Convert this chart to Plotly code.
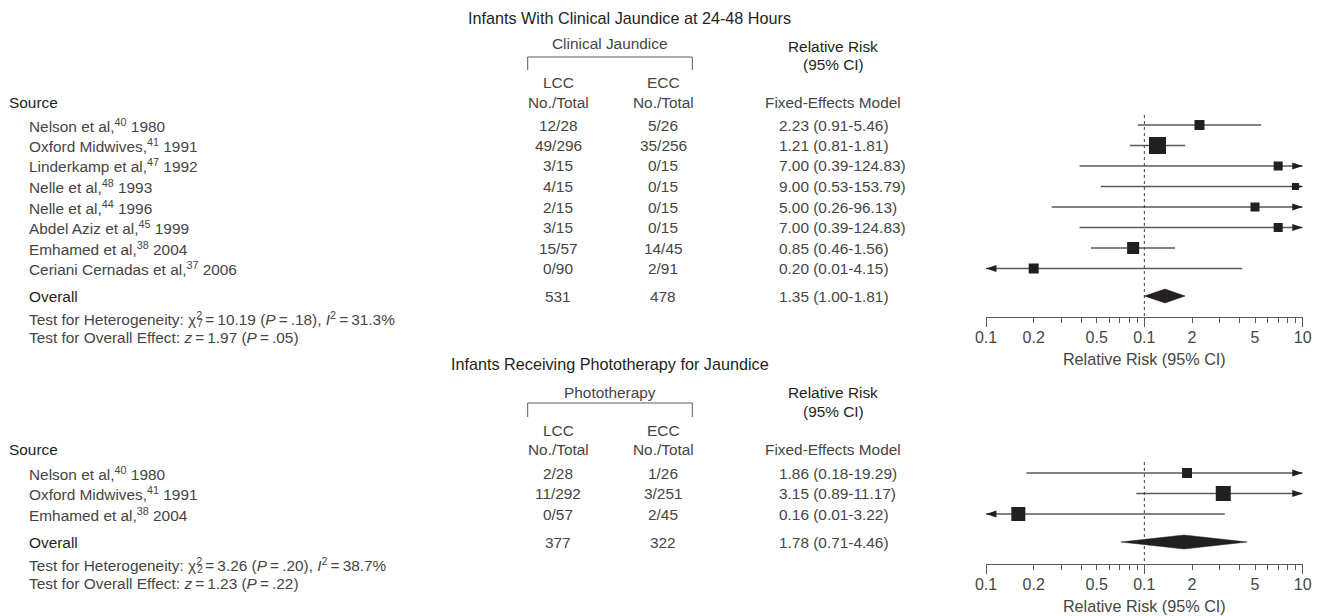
import numpy as np
import plotly.graph_objects as go

W, H = 1320, 616
FONT = "Liberation Sans, Arial, Helvetica, sans-serif"
DARK = "#231f20"
BODY = "#454545"
LINE = "#5a5a5a"
FS = 15.4        # body text size
FS_HEAD = 16.2   # section title size

# ------------------------------------------------------------------ data
# Panel 1: Infants With Clinical Jaundice at 24-48 Hours
p1_title = "Infants With Clinical Jaundice at 24-48 Hours"
p1_group = "Clinical Jaundice"
p1_authors = ["Nelson et al,", "Oxford Midwives,", "Linderkamp et al,", "Nelle et al,",
              "Nelle et al,", "Abdel Aziz et al,", "Emhamed et al,", "Ceriani Cernadas et al,"]
p1_refs = ["40", "41", "47", "48", "44", "45", "38", "37"]
p1_years = ["1980", "1991", "1992", "1993", "1996", "1999", "2004", "2006"]
p1_lcc = ["12/28", "49/296", "3/15", "4/15", "2/15", "3/15", "15/57", "0/90"]
p1_ecc = ["5/26", "35/256", "0/15", "0/15", "0/15", "0/15", "14/45", "2/91"]
p1_rr = [2.23, 1.21, 7.00, 9.00, 5.00, 7.00, 0.85, 0.20]
p1_lo = [0.91, 0.81, 0.39, 0.53, 0.26, 0.39, 0.46, 0.01]
p1_hi = [5.46, 1.81, 124.83, 153.79, 96.13, 124.83, 1.56, 4.15]
p1_weight = [10.8, 31.2, 8.8, 5.3, 8.8, 8.8, 15.6, 10.8]   # estimated relative weights (%)
p1_totals = ["531", "478"]
p1_overall = [1.35, 1.00, 1.81]          # estimate, lower, upper
p1_chi_df, p1_chi, p1_chi_p, p1_i2 = "7", "10.19", ".18", "31.3%"
p1_z, p1_z_p = "1.97", ".05"

# Panel 2: Infants Receiving Phototherapy for Jaundice
p2_title = "Infants Receiving Phototherapy for Jaundice"
p2_group = "Phototherapy"
p2_authors = ["Nelson et al,", "Oxford Midwives,", "Emhamed et al,"]
p2_refs = ["40", "41", "38"]
p2_years = ["1980", "1991", "2004"]
p2_lcc = ["2/28", "11/292", "0/57"]
p2_ecc = ["1/26", "3/251", "2/45"]
p2_rr = [1.86, 3.15, 0.16]
p2_lo = [0.18, 0.89, 0.01]
p2_hi = [19.29, 11.17, 3.22]
p2_weight = [19.2, 43.2, 37.6]
p2_totals = ["377", "322"]
p2_overall = [1.78, 0.71, 4.46]
p2_chi_df, p2_chi, p2_chi_p, p2_i2 = "2", "3.26", ".20", "38.7%"
p2_z, p2_z_p = "1.23", ".22"

# axis ticks (the reference labels the 1 tick as "0.1")
tick_vals = [0.1, 0.2, 0.3, 0.4, 0.5, 0.6, 0.7, 0.8, 0.9, 1, 2, 3, 4, 5, 6, 7, 8, 9, 10]
tick_labels = {0.1: "0.1", 0.2: "0.2", 0.5: "0.5", 1: "0.1", 2: "2", 5: "5", 10: "10"}
decade_ticks = [0.1, 1, 10]
axis_title = "Relative Risk (95% CI)"

# ------------------------------------------------------------------ layout (pixel positions)
X_SOURCE, X_NAME, X_LCC, X_ECC, X_RR_C, X_RR_L = 6.5, 26.5, 558, 663, 833, 776.5
X_GROUP, BR_X0, BR_X1 = 610, 527.7, 692.3
X_CHI_DF = 200
AX_X0, AX_X1 = 986, 1302.7
ROW_DY = 20.5
P1 = dict(title_x=629, title_y=18, group_y=44, br_top=57, br_bot=70, rr1_y=46, rr2_y=64,
          lcc_y=83, hdr_y=102, row0=125, overall_y=296, het_y=318, eff_y=337,
          axis_y=317, dot_top=115, sq_scale=3.05)
P2 = dict(title_x=610, title_y=364, group_y=392, br_top=403, br_bot=417, rr1_y=392.5, rr2_y=411.5,
          lcc_y=430, hdr_y=449, row0=473, overall_y=542, het_y=564, eff_y=583,
          axis_y=564, dot_top=462, sq_scale=2.28)

annotations, shapes, traces = [], [], []


def px(x):
    return x / W


def py(y):
    return 1 - y / H


def ann(text, x, y, anchor="left", size=FS, color=BODY):
    annotations.append(dict(text=text, x=px(x), y=py(y), xref="paper", yref="paper",
                            xanchor=anchor, yanchor="middle", showarrow=False,
                            font=dict(family=FONT, size=size, color=color)))


def panel(P, xname, title, group, authors, refs, years, lcc, ecc, rr, lo, hi, weight,
          totals, overall, chi_df, chi, chi_p, i2, z, z_p):
    ann(title, P["title_x"], P["title_y"], "center", size=FS_HEAD, color=DARK)
    ann(group, X_GROUP, P["group_y"], "center")
    shapes.append(dict(type="path", xref="paper", yref="paper",
                       path=f"M{px(BR_X0)},{py(P['br_bot'])} L{px(BR_X0)},{py(P['br_top'])} "
                            f"L{px(BR_X1)},{py(P['br_top'])} L{px(BR_X1)},{py(P['br_bot'])}",
                       line=dict(color=LINE, width=1)))
    ann("Relative Risk", X_RR_C, P["rr1_y"], "center", color=DARK)
    ann("(95% CI)", X_RR_C, P["rr2_y"], "center", color=DARK)
    ann("LCC", X_LCC, P["lcc_y"], "center")
    ann("ECC", X_ECC, P["lcc_y"], "center")
    ann("Source", X_SOURCE, P["hdr_y"], "left", color=DARK)
    ann("No./Total", X_LCC, P["hdr_y"], "center")
    ann("No./Total", X_ECC, P["hdr_y"], "center")
    ann("Fixed-Effects Model", X_RR_C, P["hdr_y"], "center")

    ys = [P["row0"] + i * ROW_DY for i in range(len(authors))]
    for i, y in enumerate(ys):
        ann(f"{authors[i]}<sup>{refs[i]}</sup> {years[i]}", X_NAME, y)
        ann(lcc[i], X_LCC, y, "center")
        ann(ecc[i], X_ECC, y, "center")
        ann(f"{rr[i]:.2f} ({lo[i]:.2f}-{hi[i]:.2f})", X_RR_L, y)
    oy = P["overall_y"]
    ann("Overall", X_NAME, oy, color=DARK)
    ann(totals[0], X_LCC, oy, "center")
    ann(totals[1], X_ECC, oy, "center")
    ann(f"{overall[0]:.2f} ({overall[1]:.2f}-{overall[2]:.2f})", X_RR_L, oy)
    ts = "\u2009=\u2009"
    ann(f"Test for Heterogeneity: χ<sup>2</sup>{ts}{chi} (<i>P</i>{ts}{chi_p}), <i>I</i><sup>2</sup>{ts}{i2}",
        X_NAME, P["het_y"])
    ann(chi_df, X_CHI_DF, P["het_y"] + 5, "center", size=10.5)
    ann(f"Test for Overall Effect: <i>z</i>{ts}{z} (<i>P</i>{ts}{z_p})", X_NAME, P["eff_y"])

    amin, amax = tick_vals[0], tick_vals[-1]
    # confidence interval lines
    lx, ly = [], []
    for i, y in enumerate(ys):
        lx += [max(lo[i], amin), min(hi[i], amax), None]
        ly += [y, y, None]
    traces.append(go.Scatter(x=lx, y=ly, xaxis=xname, yaxis="y", mode="lines",
                             line=dict(color=LINE, width=1.3), hoverinfo="skip"))
    # arrows for truncated intervals
    axs, ays, ang = [], [], []
    for i, y in enumerate(ys):
        if hi[i] > amax:
            axs.append(amax); ays.append(y); ang.append(90)
        if lo[i] < amin:
            axs.append(amin); ays.append(y); ang.append(270)
    traces.append(go.Scatter(x=axs, y=ays, xaxis=xname, yaxis="y", mode="markers",
                             marker=dict(symbol="arrow", size=11, angle=ang, color=DARK,
                                         opacity=1, line=dict(width=0)),
                             hoverinfo="skip"))
    # reference line at 1
    traces.append(go.Scatter(x=[1, 1], y=[P["dot_top"], P["axis_y"]], xaxis=xname, yaxis="y",
                             mode="lines", line=dict(color="#444", width=1, dash="dot"),
                             hoverinfo="skip"))
    # study squares
    traces.append(go.Scatter(x=rr, y=ys, xaxis=xname, yaxis="y", mode="markers",
                             marker=dict(symbol="square", color=DARK, opacity=1,
                                         size=[P["sq_scale"] * np.sqrt(w) for w in weight],
                                         line=dict(width=0)),
                             hoverinfo="skip"))
    # overall diamond
    est, olo, ohi = overall
    hh = 7
    traces.append(go.Scatter(x=[olo, est, ohi, est, olo], y=[oy, oy - hh, oy, oy + hh, oy],
                             xaxis=xname, yaxis="y", mode="lines", fill="toself",
                             fillcolor=DARK, line=dict(color=DARK, width=0.5),
                             hoverinfo="skip"))


panel(P1, "x", p1_title, p1_group, p1_authors, p1_refs, p1_years, p1_lcc, p1_ecc,
      p1_rr, p1_lo, p1_hi, p1_weight, p1_totals, p1_overall,
      p1_chi_df, p1_chi, p1_chi_p, p1_i2, p1_z, p1_z_p)
panel(P2, "x2", p2_title, p2_group, p2_authors, p2_refs, p2_years, p2_lcc, p2_ecc,
      p2_rr, p2_lo, p2_hi, p2_weight, p2_totals, p2_overall,
      p2_chi_df, p2_chi, p2_chi_p, p2_i2, p2_z, p2_z_p)

# invisible anchors for the decade-tick overlay axes
for xn in ["x3", "x4"]:
    traces.append(go.Scatter(x=[1], y=[-100], xaxis=xn, yaxis="y", mode="markers",
                             marker=dict(opacity=0), hoverinfo="skip"))

fig = go.Figure(traces)

dom = [px(AX_X0), px(AX_X1)]
rng = [np.log10(tick_vals[0]), np.log10(tick_vals[-1])]


def main_axis(ypos, overlay=None):
    d = dict(type="log", range=rng, domain=dom, anchor="free", position=py(ypos),
             showgrid=False, zeroline=False, showline=True, linecolor=LINE, linewidth=1,
             ticks="outside", ticklen=5, tickwidth=1, tickcolor=LINE,
             tickmode="array", tickvals=tick_vals,
             ticktext=[tick_labels.get(v, "") for v in tick_vals],
             tickfont=dict(family=FONT, size=16, color=BODY),
             ticklabelstandoff=1,
             title=dict(text=axis_title, font=dict(family=FONT, size=16.2, color=BODY), standoff=8),
             automargin=False, fixedrange=True)
    if overlay:
        d["overlaying"] = overlay
    return d


def decade_axis(ypos, overlay):
    return dict(type="log", range=rng, domain=dom, anchor="free", position=py(ypos),
                overlaying=overlay, showgrid=False, zeroline=False, showline=False,
                ticks="outside", ticklen=9, tickwidth=1, tickcolor=LINE,
                tickmode="array", tickvals=decade_ticks, showticklabels=False,
                automargin=False, fixedrange=True)


fig.update_layout(
    width=W, height=H, autosize=False,
    margin=dict(l=0, r=0, t=0, b=0, pad=0),
    paper_bgcolor="white", plot_bgcolor="white",
    showlegend=False,
    xaxis=main_axis(P1["axis_y"]),
    xaxis2=main_axis(P2["axis_y"], overlay="x"),
    xaxis3=decade_axis(P1["axis_y"], "x"),
    xaxis4=decade_axis(P2["axis_y"], "x"),
    yaxis=dict(range=[H, 0], domain=[0, 1], visible=False, fixedrange=True),
    annotations=annotations,
    shapes=shapes,
)

fig.write_html("out.html", config={"displayModeBar": False},
               post_script="document.body.style.margin='0';document.body.style.overflow='hidden';")
